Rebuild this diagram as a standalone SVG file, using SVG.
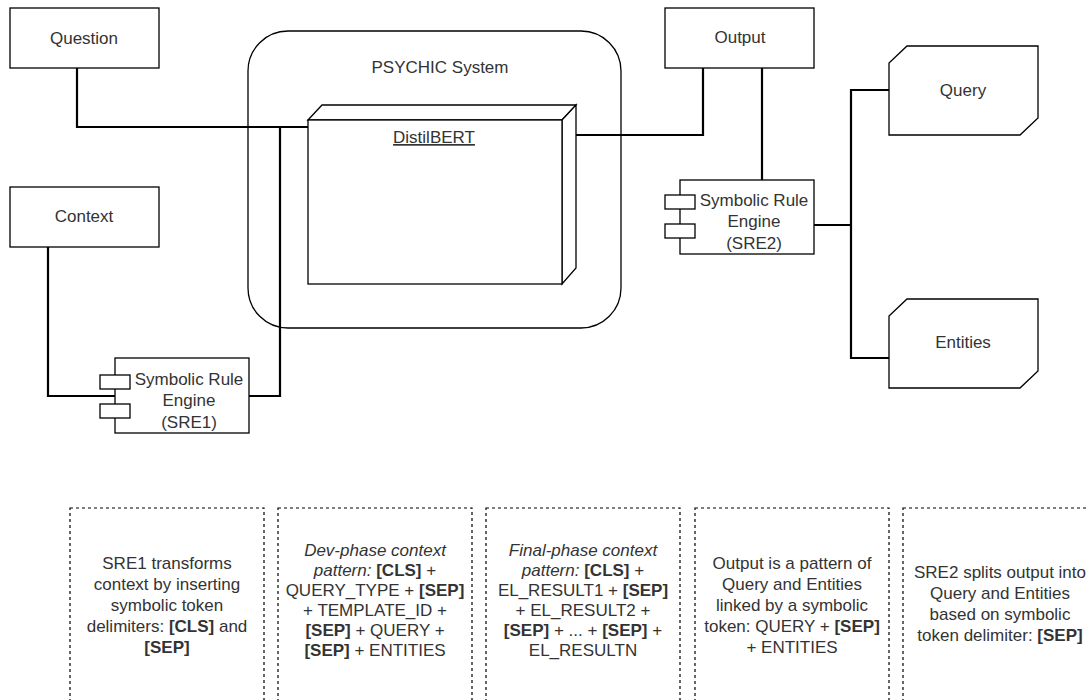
<svg xmlns="http://www.w3.org/2000/svg" width="1089" height="700" viewBox="0 0 1089 700">
<style>
.s{fill:#fff;stroke:#000;stroke-width:1.3}
.n{fill:none;stroke:#000;stroke-width:1.3}
.c{fill:none;stroke:#000;stroke-width:2.2}
.d{fill:none;stroke:#000;stroke-width:1.2;stroke-dasharray:3 3}
text{font-family:"Liberation Sans",Arial,sans-serif;font-size:17px;fill:#333;text-anchor:middle}
.b{font-weight:bold}
.i{font-style:italic}
</style>
<rect width="1089" height="700" fill="#fff"/>
<g id="psychic">
<rect class="n" x="248" y="31" width="373" height="297" rx="40" ry="40"/>
<text x="440" y="73">PSYCHIC System</text>
</g>
<g id="connectors">
<polyline class="c" points="77,68 77,127 308,127"/>
<polyline class="c" points="48,247 48,396 115,396"/>
<polyline class="c" points="249,396 280,396 280,127"/>
<polyline class="c" points="576,135 703,135 703,68"/>
<polyline class="c" points="762,68 762,180"/>
<polyline class="c" points="814,225 851,225"/>
<polyline class="c" points="889,90 851,90 851,358 889,358"/>
</g>
<g id="question">
<rect class="s" x="10" y="8" width="149" height="60"/>
<text x="84" y="44">Question</text>
</g>
<g id="context">
<rect class="s" x="10" y="187" width="149" height="60"/>
<text x="84" y="222">Context</text>
</g>
<g id="distilbert">
<polygon class="s" points="308,120 322,105 576,105 562,120"/>
<polygon class="s" points="562,120 576,105 576,268 562,284"/>
<rect class="s" x="308" y="120" width="254" height="164"/>
<text x="434" y="143" text-decoration="underline">DistilBERT</text>
</g>
<g id="output">
<rect class="s" x="665" y="8" width="149" height="60"/>
<text x="740" y="43">Output</text>
</g>
<g id="sre1">
<rect class="s" x="115" y="358" width="134" height="75"/>
<rect class="s" x="100" y="375" width="30" height="14"/>
<rect class="s" x="100" y="404" width="30" height="14"/>
<text x="189" y="385">Symbolic Rule</text>
<text x="189" y="406">Engine</text>
<text x="189" y="428">(SRE1)</text>
</g>
<g id="sre2">
<rect class="s" x="680" y="180" width="134" height="74"/>
<rect class="s" x="665" y="195" width="30" height="14"/>
<rect class="s" x="665" y="224" width="30" height="14"/>
<text x="754" y="206">Symbolic Rule</text>
<text x="754" y="227">Engine</text>
<text x="754" y="249">(SRE2)</text>
</g>
<g id="query">
<polygon class="s" points="907,46 1038,46 1038,118 1020,135 889,135 889,63"/>
<text x="963" y="96">Query</text>
</g>
<g id="entities">
<polygon class="s" points="907,299 1038,299 1038,371 1020,388 889,388 889,316"/>
<text x="963" y="348">Entities</text>
</g>
<g id="note1">
<rect class="d" x="70" y="508" width="194" height="200"/>
<text x="167" y="569">SRE1 transforms</text>
<text x="167" y="590">context by inserting</text>
<text x="167" y="611">symbolic token</text>
<text x="167" y="632">delimiters: <tspan class="b">[CLS]</tspan> and</text>
<text x="167" y="653" class="b">[SEP]</text>
</g>
<g id="note2">
<rect class="d" x="278" y="508" width="194" height="200"/>
<text x="375" y="556" class="i">Dev-phase context</text>
<text x="375" y="576"><tspan class="i">pattern:</tspan> <tspan class="b">[CLS]</tspan> +</text>
<text x="375" y="596">QUERY_TYPE + <tspan class="b">[SEP]</tspan></text>
<text x="375" y="616">+ TEMPLATE_ID +</text>
<text x="375" y="636"><tspan class="b">[SEP]</tspan> + QUERY +</text>
<text x="375" y="656"><tspan class="b">[SEP]</tspan> + ENTITIES</text>
</g>
<g id="note3">
<rect class="d" x="486" y="508" width="194" height="200"/>
<text x="583" y="556" class="i">Final-phase context</text>
<text x="583" y="576"><tspan class="i">pattern:</tspan> <tspan class="b">[CLS]</tspan> +</text>
<text x="583" y="596">EL_RESULT1 + <tspan class="b">[SEP]</tspan></text>
<text x="583" y="616">+ EL_RESULT2 +</text>
<text x="583" y="636"><tspan class="b">[SEP]</tspan> + ... + <tspan class="b">[SEP]</tspan> +</text>
<text x="583" y="656">EL_RESULTN</text>
</g>
<g id="note4">
<rect class="d" x="695" y="508" width="194" height="200"/>
<text x="792" y="569">Output is a pattern of</text>
<text x="792" y="590">Query and Entities</text>
<text x="792" y="611">linked by a symbolic</text>
<text x="792" y="632">token: QUERY + <tspan class="b">[SEP]</tspan></text>
<text x="792" y="653">+ ENTITIES</text>
</g>
<g id="note5">
<rect class="d" x="903" y="508" width="194" height="200"/>
<text x="1000" y="578">SRE2 splits output into</text>
<text x="1000" y="599">Query and Entities</text>
<text x="1000" y="620">based on symbolic</text>
<text x="1000" y="641">token delimiter: <tspan class="b">[SEP]</tspan></text>
</g>
</svg>
